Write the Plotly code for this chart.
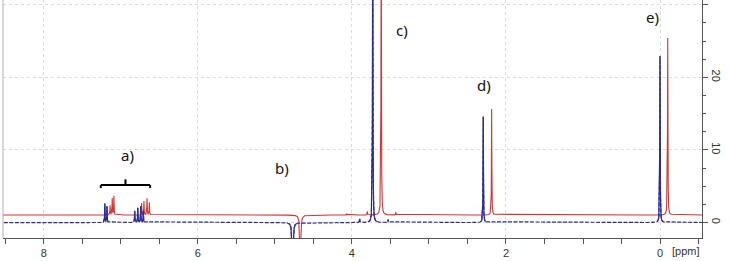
import numpy as np
import plotly.graph_objects as go

# ---- data (ppm, intensity) ----
blue_ppm = [7.208, 7.180, 6.820, 6.780, 6.742, 6.708, 4.770, 3.900, 3.730, 3.530, 2.295, 0.000]
blue_int = [2.6, 2.2, 1.6, 2.0, 2.2, 1.6, -9.0, 0.5, 45.0, 0.4, 14.6, 22.9]

red_ppm = [7.140, 7.112, 7.090, 6.730, 6.700, 6.660, 6.630, 4.670, 4.070, 3.800, 3.620, 3.430, 2.186, -0.100]
red_int = [1.3, 2.3, 2.6, 1.65, 1.9, 2.3, 1.75, -9.0, 0.2, 0.5, 45.0, 0.4, 14.6, 24.4]

red_offset = 1.03
x_ticks = [8, 6, 4, 2, 0]
y_ticks = [0, 10, 20, 30]
labels = ["a)", "b)", "c)", "d)", "e)"]
label_ppm = [6.91, 4.91, 3.35, 2.29, 0.10]
label_y = [9.3, 7.5, 26.5, 18.9, 28.3]

# ---- build line-shapes from the peak lists ----
ppm = np.round(np.arange(-0.56, 8.56, 0.001), 4)
hw = 0.0028


def spectrum(centers, heights):
    y = np.zeros_like(ppm)
    for c, h in zip(centers, heights):
        w = hw * 2.2 if h < 0 else hw
        y += h * w**2 / ((ppm - c) ** 2 + w**2)
    return y


blue_y = spectrum(blue_ppm, blue_int)
red_y = spectrum(red_ppm, red_int) + red_offset

# solid overlay for the blue peaks (baseline stays dashed)
blue_peaks = np.where(np.abs(blue_y) > 0.12, blue_y, np.nan)

fig = go.Figure()
fig.add_trace(go.Scatter(x=ppm, y=red_y, mode="lines",
                         line=dict(color="#d43434", width=1.1), hoverinfo="skip"))
fig.add_trace(go.Scatter(x=ppm, y=blue_y, mode="lines",
                         line=dict(color="#2a2a9c", width=1.2, dash="4px,1.5px"), hoverinfo="skip"))
fig.add_trace(go.Scatter(x=ppm, y=blue_peaks, mode="lines", connectgaps=False,
                         line=dict(color="#2a2a9c", width=1.2), hoverinfo="skip"))

for t, xx, yy in zip(labels, label_ppm, label_y):
    fig.add_annotation(x=xx, y=yy, text=t, showarrow=False,
                       font=dict(family="Noto Sans", size=15, color="#111"))

fig.add_annotation(xref="paper", yref="paper", x=0.977, y=-0.02, yanchor="top",
                   xanchor="center", text="[ppm]", showarrow=False,
                   font=dict(family="Liberation Sans", size=11, color="#333"))

# bracket for a)
br = dict(color="black", width=2)
fig.add_shape(type="line", x0=7.26, x1=6.62, y0=5.17, y1=5.17, line=br)
fig.add_shape(type="line", x0=7.26, x1=7.26, y0=5.17, y1=4.75, line=br)
fig.add_shape(type="line", x0=6.62, x1=6.62, y0=5.17, y1=4.75, line=br)
fig.add_shape(type="line", x0=6.94, x1=6.94, y0=5.17, y1=5.95, line=br)
# left frame line
fig.add_shape(type="line", xref="paper", yref="paper", x0=0, x1=0, y0=0, y1=1,
              line=dict(color="#b0b0b0", width=1))

fig.update_layout(
    width=731, height=261,
    margin=dict(l=3, r=29, t=0, b=23),
    paper_bgcolor="white", plot_bgcolor="white",
    showlegend=False,
    xaxis=dict(range=[8.53, -0.545], tickvals=x_ticks, showline=True, linecolor="#555",
               linewidth=1, ticks="outside", ticklen=5, tickcolor="#555",
               minor=dict(dtick=0.5, ticks="outside", ticklen=5, tickcolor="#555"),
               showgrid=True, gridcolor="#dcdcdc", griddash="dot", zeroline=False,
               tickfont=dict(family="Liberation Sans", size=11, color="#333")),
    yaxis=dict(range=[-2.13, 30.65], side="right", tickvals=y_ticks, showline=True,
               linecolor="#555", linewidth=1, ticks="outside", ticklen=5, tickcolor="#555",
               minor=dict(dtick=2.5, ticks="outside", ticklen=3, tickcolor="#555"),
               showgrid=True, gridcolor="#dcdcdc", griddash="dot", zeroline=False,
               tickangle=90,
               tickfont=dict(family="Liberation Sans", size=11, color="#333")),
)

fig.write_html("out.html")
